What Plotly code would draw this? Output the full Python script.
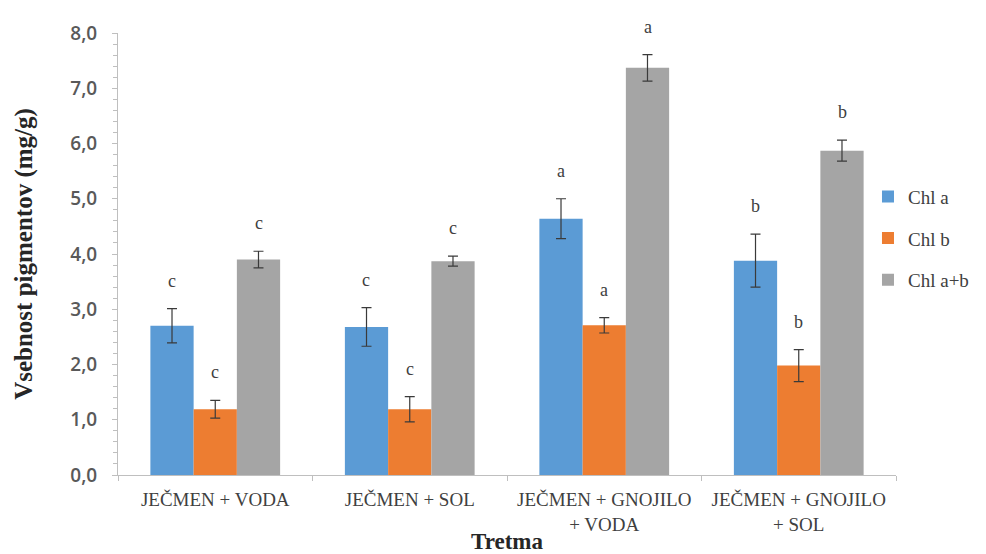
import plotly.graph_objects as go

categories = ["JEČMEN + VODA", "JEČMEN + SOL", "JEČMEN + GNOJILO<br>+ VODA", "JEČMEN + GNOJILO<br>+ SOL"]
series_names = ["Chl a", "Chl b", "Chl a+b"]
chl_a = [2.70, 2.68, 4.64, 3.88]
chl_a_err = [0.31, 0.35, 0.36, 0.48]
chl_b = [1.19, 1.19, 2.71, 1.98]
chl_b_err = [0.16, 0.23, 0.14, 0.29]
chl_ab = [3.90, 3.87, 7.37, 5.87]
chl_ab_err = [0.15, 0.09, 0.24, 0.19]
letters_a = ["c", "c", "a", "b"]
letters_b = ["c", "c", "a", "b"]
letters_ab = ["c", "c", "a", "b"]
colors = ["#5b9bd5", "#ed7d31", "#a5a5a5"]

values = [chl_a, chl_b, chl_ab]
errors = [chl_a_err, chl_b_err, chl_ab_err]
letters = [letters_a, letters_b, letters_ab]

serif = "Liberation Serif"

# the page body has an 8px default margin, so the figure is sized to fit the window
W, H = 978, 546
ML, MR, MT, MB = 110, 86, 15, 79

fig = go.Figure()
for i, name in enumerate(series_names):
    fig.add_trace(go.Bar(
        x=categories, y=values[i], name=name,
        marker=dict(color=colors[i], line=dict(width=0)),
        error_y=dict(type="data", array=errors[i], visible=True,
                     color="#3a3a3a", thickness=1.2, width=5),
        legendgroup=name,
    ))

# letter annotations above error bars
plot_w = W - ML - MR
cat_w = plot_w / len(categories)
bargap = 0.333
bar_w = cat_w * (1 - bargap) / 3
for i in range(3):
    for j, c in enumerate(categories):
        fig.add_annotation(
            x=c, y=values[i][j] + errors[i][j], xref="x", yref="y",
            text=letters[i][j], showarrow=False,
            xshift=(i - 1) * bar_w, yshift=16, yanchor="bottom",
            font=dict(family=serif, size=18, color="#404040"),
        )

# x axis title
fig.add_annotation(
    x=0.5, y=0, xref="paper", yref="paper", text="<b>Tretma</b>",
    showarrow=False, yanchor="middle", xanchor="center", yshift=-66,
    font=dict(family=serif, size=23, color="#262626"),
)

fig.update_layout(
    width=W, height=H,
    margin=dict(l=ML, r=MR, t=MT, b=MB),
    paper_bgcolor="white", plot_bgcolor="white",
    barmode="group", bargap=bargap, bargroupgap=0,
    separators=", ",
    showlegend=True,
    legend=dict(x=0.964, y=0.535, xanchor="left", yanchor="middle",
                font=dict(family=serif, size=19, color="#404040"),
                tracegroupgap=14, traceorder="grouped",
                itemwidth=30),
    xaxis=dict(
        showline=True, linecolor="#bfbfbf", linewidth=1,
        ticks="outside", tickson="boundaries", ticklen=5, tickcolor="#bfbfbf",
        ticklabelstandoff=7,
        tickfont=dict(family=serif, size=19, color="#404040"),
        showgrid=False, zeroline=False,
    ),
    yaxis=dict(
        range=[0, 8], dtick=1, tickformat=".1f",
        showline=True, linecolor="#bfbfbf", linewidth=1,
        ticks="outside", ticklen=5, tickcolor="#bfbfbf",
        ticklabelstandoff=11,
        minor=dict(dtick=0.2, ticks="outside", ticklen=4, tickcolor="#bfbfbf", showgrid=False),
        tickfont=dict(family="Open Sans", size=19, color="#595959", weight=600),
        title=dict(text="<b>Vsebnost pigmentov (mg/g)</b>", font=dict(family=serif, size=25, color="#262626"), standoff=30),
        showgrid=False, zeroline=False,
    ),
)

fig.write_html("out.html")
